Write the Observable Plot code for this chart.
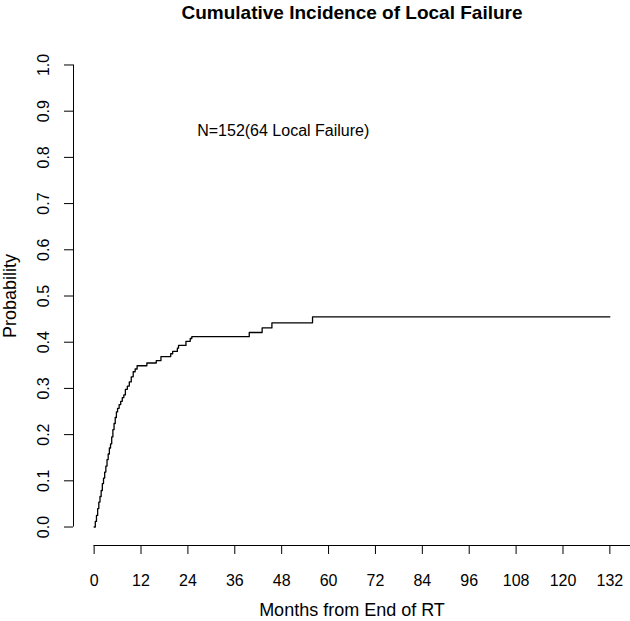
<!DOCTYPE html>
<html>
<head>
<meta charset="utf-8">
<script src="https://cdn.jsdelivr.net/npm/d3@7"></script>
<script src="https://cdn.jsdelivr.net/npm/@observablehq/plot@0.6"></script>
<style>
  html, body { margin: 0; padding: 0; background: #ffffff; }
</style>
</head>
<body>
<div id="chart"></div>
<script>
// ---- data ----
const months = [0, 0.3, 0.6, 0.9, 1.2, 1.5, 1.8, 2.1, 2.4, 2.7, 3.0, 3.3, 3.6, 3.9, 4.2, 4.5, 4.8, 5.1, 5.4, 5.7,
                6.0, 6.4, 6.8, 7.2, 7.6, 8.0, 8.5, 9.0, 9.5, 10.0, 10.5, 11.0,
                13.5, 15.9, 17.1, 19.6, 20.1, 21.3, 21.6, 23.5, 24.6, 25.0, 39.7, 43.0, 45.5, 55.9, 132];
const cumInc = [0, 0.012, 0.025, 0.040, 0.054, 0.066, 0.079, 0.094, 0.106, 0.119, 0.132, 0.146, 0.158, 0.171, 0.180, 0.195, 0.211, 0.224, 0.237, 0.249,
                0.257, 0.265, 0.272, 0.280, 0.286, 0.298, 0.305, 0.314, 0.325, 0.336, 0.342, 0.349,
                0.355, 0.360, 0.369, 0.375, 0.380, 0.387, 0.393, 0.402, 0.408, 0.412, 0.421, 0.431, 0.442, 0.455, 0.455];
const xTicks = [0, 12, 24, 36, 48, 60, 72, 84, 96, 108, 120, 132];
const yTicks = [0, 0.1, 0.2, 0.3, 0.4, 0.5, 0.6, 0.7, 0.8, 0.9, 1.0];
const titleText = ["Cumulative Incidence of Local Failure"];
const xLabel = ["Months from End of RT"];
const yLabel = ["Probability"];
const notes = [{month: 48.4, prob: 0.857, label: "N=152(64 Local Failure)"}];

const curve = months.map((m, i) => ({month: m, prob: cumInc[i]}));
const xDomain = [-5.28, 137.28];
const yDomain = [-0.04, 1.04];

const font = "'Liberation Sans', Arial, sans-serif";

const chart = Plot.plot({
  width: 630,
  height: 621,
  marginLeft: 73,
  marginRight: 0,
  marginTop: 46,
  marginBottom: 76,
  style: {fontFamily: font, fontSize: "16px", background: "#ffffff", color: "#000"},
  x: {domain: xDomain, label: null},
  y: {domain: yDomain, label: null},
  marks: [
    // x axis line and ticks
    Plot.ruleY([yDomain[0]], {x1: d3.min(xTicks), x2: xDomain[1], stroke: "#000", strokeWidth: 1}),
    Plot.axisX({ticks: xTicks, tickSize: 9, tickPadding: 20, fontSize: 16, label: null, stroke: "#000", strokeWidth: 1}),
    // y axis line and ticks
    Plot.ruleX([xDomain[0]], {y1: d3.min(yTicks), y2: d3.max(yTicks), stroke: "#000", strokeWidth: 1}),
    Plot.axisY({ticks: yTicks, tickSize: 9, tickFormat: () => "", label: null, stroke: "#000", strokeWidth: 1}),
    Plot.text(yTicks, {y: d => d, text: d => d.toFixed(1), frameAnchor: "left", dx: -30, rotate: -90,
      textAnchor: "middle", lineAnchor: "middle", fontSize: 16, fill: "#000"}),
    // curve
    Plot.line(curve, {x: "month", y: "prob", curve: "step-after", stroke: "#000", strokeWidth: 1.3}),
    // annotation
    Plot.text(notes, {x: "month", y: "prob", text: "label", fontSize: 16, fill: "#000", lineAnchor: "middle"}),
    // titles
    Plot.text(titleText, {frameAnchor: "top", dy: -34, text: d => d, fontSize: 19, fontWeight: "bold", fill: "#000", lineAnchor: "middle"}),
    Plot.text(xLabel, {frameAnchor: "bottom", dy: 65, text: d => d, fontSize: 18, fill: "#000", lineAnchor: "middle"}),
    Plot.text(yLabel, {frameAnchor: "left", dx: -63, rotate: -90, text: d => d, fontSize: 18, fill: "#000",
      textAnchor: "middle", lineAnchor: "middle"})
  ]
});
document.getElementById("chart").appendChild(chart);
</script>
</body>
</html>
